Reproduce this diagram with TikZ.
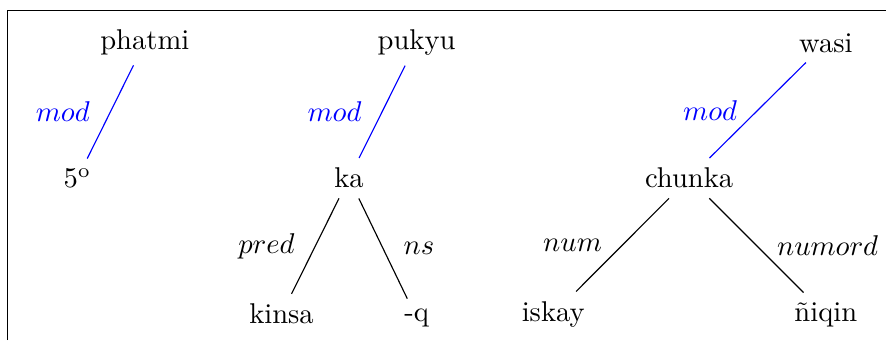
\documentclass[tikz,border=0pt]{standalone}
\usetikzlibrary{positioning}

\begin{document}
\begin{tikzpicture}[
  every node/.style={font=\normalsize},
  word/.style={anchor=base},
  dep/.style={draw=black},
  moddep/.style={draw=blue},
  relleft/.style={midway, left=3.7pt},
  relright/.style={midway, right=3.7pt},
]

\useasboundingbox (0,0) rectangle (10.89,-4.18);
% frame (cut at the page edge)
\draw (0.09,-4.18) -- (0.09,-0.13) -- (10.89,-0.13);

% ---- tree 1 ----
\node[word] (phatmi) at (1.78,-0.61) {phatmi};
\node[word] (fifth)  at (0.95,-2.31) {5\textsuperscript{o}};

\draw[moddep] (phatmi) -- node[relleft, text=blue] (mod1) {$mod$} (fifth);

% ---- tree 2 ----
\node[word] (pukyu) at (5.12,-0.61) {pukyu};
\node[word] (ka)    at (4.29,-2.31) {ka};
\node[word] (kinsa) at (3.46,-3.98) {kinsa};
\node[word] (q)     at (5.12,-3.95) {-q};

\draw[moddep] (pukyu) -- node[relleft, text=blue] (mod2) {$mod$} (ka);
\draw[dep] (ka) -- node[relleft] (pred) {$pred$} (kinsa);
\draw[dep] (ka) -- node[relright] (ns) {$ns$} (q);

% ---- tree 3 ----
\node[word] (wasi)   at (10.15,-0.64) {wasi};
\node[word] (chunka) at (8.47,-2.31) {chunka};
\node[word] (iskay)  at (6.80,-3.95) {iskay};
\node[word] (niqin)  at (10.15,-3.95) {ñiqin};

\draw[moddep] (wasi) -- node[relleft, text=blue] (mod3) {$mod$} (chunka);
\draw[dep] (chunka) -- node[relleft] (num) {$num$} (iskay);
\draw[dep] (chunka) -- node[relright] (numord) {$numord$} (niqin);

\end{tikzpicture}
\end{document}
